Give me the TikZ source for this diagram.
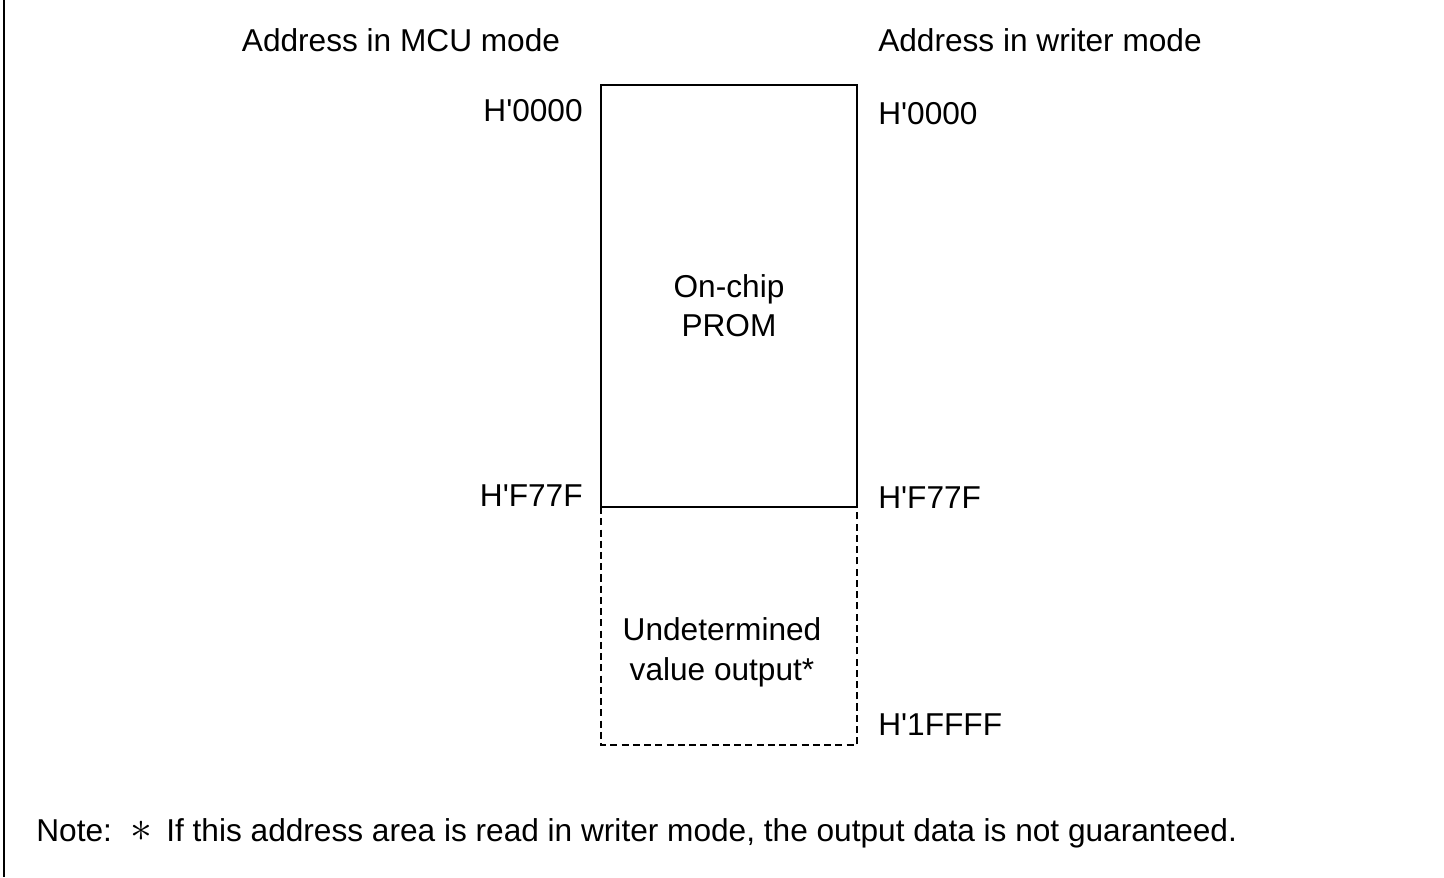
\documentclass[tikz,border=0pt]{standalone}
\usepackage{fontspec}
\setmainfont{Liberation Sans}
\usetikzlibrary{positioning}

\newcommand{\hq}{\textquotesingle}

\begin{document}
\begin{tikzpicture}[x=0.02cm, y=-0.02cm,
  lbl/.style={inner sep=0pt, anchor=base, font=\fontsize{18}{22}\selectfont},
  area/.style={line width=1.1pt},
  undef/.style={line width=1.1pt, dash pattern=on 4pt off 2.4pt}]
  \useasboundingbox (0,0) rectangle (1444,877);
  \draw[line width=0.8pt] (4,0) -- (4,877);
  % memory areas
  \coordinate (tl) at (601,85);
  \coordinate (br) at (857,507);
  \coordinate (ubl) at (601,745);
  \coordinate (ubr) at (857,745);
  \draw[undef] (tl |- br) -- (ubl) -- (ubr) -- (br);
  \draw[area] (tl) rectangle (br);
  \node[lbl] (mcu) at (401,51) {Address in MCU mode};
  \node[lbl] (wrt) at (1040,51) {Address in writer mode};
  \node[lbl, anchor=base east] (mstart) at (583,121) {H\hq0000};
  \node[lbl, anchor=base west] (wstart) at (878,124) {H\hq0000};
  \node[lbl, anchor=base east] (mend) at (583,506) {H\hq F77F};
  \node[lbl, anchor=base west] (wend) at (878,508) {H\hq F77F};
  \node[lbl, anchor=base west] (wlast) at (878,735) {H\hq 1FFFF};
  \node[lbl] (prom1) at (729,297) {On-chip};
  \node[lbl] (prom2) at (729,336) {PROM};
  \node[lbl] (und1) at (722,640) {Undetermined};
  \node[lbl] (und2) at (722,680) {value output*};
  % note
  \node[lbl, anchor=base west] (notehd) at (36,841) {Note:};
  \node[lbl, font=\fontsize{27}{27}\selectfont] (noteast) at (141,841) {$\ast$};
  \node[lbl, anchor=base west] (notetxt) at (166,841)
    {If this address area is read in writer mode, the output data is not guaranteed.};
\end{tikzpicture}
\end{document}
